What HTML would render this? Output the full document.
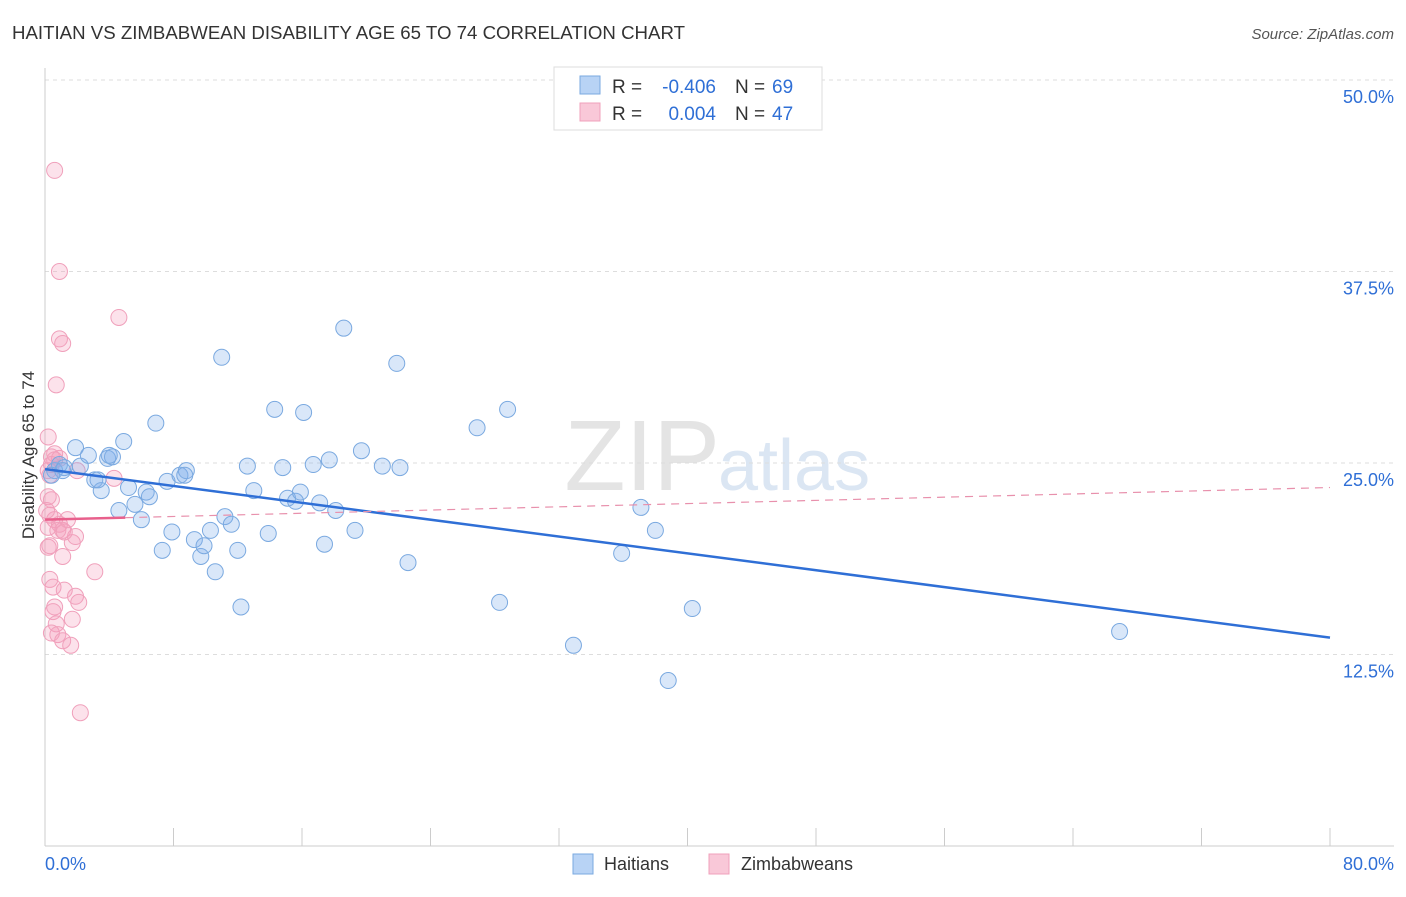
<!DOCTYPE html>
<html><head><meta charset="utf-8"><style>
body{margin:0;background:#fff;font-family:"Liberation Sans",sans-serif;}
svg text{font-family:"Liberation Sans",sans-serif;}
</style></head><body>
<svg id="c" width="1406" height="892">
<text x="12" y="39" font-size="18" fill="#333" textLength="673" lengthAdjust="spacingAndGlyphs">HAITIAN VS ZIMBABWEAN DISABILITY AGE 65 TO 74 CORRELATION CHART</text>
<text x="1394" y="39" font-size="15" fill="#555" font-style="italic" text-anchor="end">Source: ZipAtlas.com</text>
<text x="720" y="490" font-size="100" fill="#e4e4e4" text-anchor="end" font-family="Liberation Serif">ZIP</text>
<text x="718" y="490" font-size="72" fill="#dbe6f3">atlas</text>
<text transform="translate(34,455) rotate(-90)" font-size="17" fill="#333" text-anchor="middle">Disability Age 65 to 74</text>
<g id="grid"></g><g id="pts"></g><g id="trend"></g>
<g>
<rect x="554" y="67" width="268" height="63" fill="#fff" stroke="#ddd"/>
<rect x="580" y="76" width="20" height="18" fill="#b8d3f5" stroke="#7aa9e0"/>
<rect x="580" y="103" width="20" height="18" fill="#f9c8d8" stroke="#f0a0bb"/>
<text x="612" y="93" font-size="19" fill="#333">R =</text>
<text x="716" y="93" font-size="19" fill="#2f6fd6" text-anchor="end">-0.406</text>
<text x="735" y="93" font-size="19" fill="#333">N =</text>
<text x="772" y="93" font-size="19" fill="#2f6fd6">69</text>
<text x="612" y="120" font-size="19" fill="#333">R =</text>
<text x="716" y="120" font-size="19" fill="#2f6fd6" text-anchor="end">0.004</text>
<text x="735" y="120" font-size="19" fill="#333">N =</text>
<text x="772" y="120" font-size="19" fill="#2f6fd6">47</text>
</g>
<g>
<rect x="573" y="854" width="20" height="20" fill="#b8d3f5" stroke="#7aa9e0"/>
<text x="604" y="870" font-size="18" fill="#333">Haitians</text>
<rect x="709" y="854" width="20" height="20" fill="#f9c8d8" stroke="#f0a0bb"/>
<text x="741" y="870" font-size="18" fill="#333">Zimbabweans</text>
</g>
</svg>
<script>
const yTicks=[12.5,25,37.5,50];
const xTickLabels=["0.0%","80.0%"];
const blueX=[0.6,0.9,1.2,1.9,2.2,2.7,3.1,3.5,3.9,4.2,4.6,4.9,5.2,5.6,6.0,6.3,6.5,6.9,7.3,7.6,7.9,8.4,8.8,9.3,9.7,9.9,10.3,10.6,11.0,11.2,11.6,12.0,12.2,12.6,13.0,13.9,14.3,14.8,15.1,15.6,15.9,16.1,16.7,17.1,17.4,17.7,18.1,18.6,19.3,19.7,21.0,21.9,22.1,22.6,26.9,28.3,28.8,32.9,35.9,37.1,38.0,38.8,40.3,66.9,1.1,0.4,3.3,4.0,8.7];
const blueY=[24.5,24.9,24.7,26.0,24.8,25.5,23.9,23.2,25.3,25.4,21.9,26.4,23.4,22.3,21.3,23.1,22.8,27.6,19.3,23.8,20.5,24.2,24.5,20.0,18.9,19.6,20.6,17.9,31.9,21.5,21.0,19.3,15.6,24.8,23.2,20.4,28.5,24.7,22.7,22.5,23.1,28.3,24.9,22.4,19.7,25.2,21.9,33.8,20.6,25.8,24.8,31.5,24.7,18.5,27.3,15.9,28.5,13.1,19.1,22.1,20.6,10.8,15.5,14.0,24.5,24.2,23.9,25.5,24.2];
const pinkX=[0.6,0.9,4.6,0.9,1.1,0.7,0.2,0.4,0.6,0.3,0.2,0.4,0.3,0.6,0.9,1.1,0.2,1.7,1.9,1.1,0.2,3.1,0.3,0.5,1.2,1.9,2.1,0.6,0.5,0.7,1.7,0.4,0.8,1.1,1.6,2.2,4.3,2.0,0.3,0.2,0.8,1.2,0.4,0.9,0.1,1.4,0.6];
const pinkY=[44.1,37.5,34.5,33.1,32.8,30.1,26.7,25.4,25.2,24.2,22.8,22.6,21.6,21.3,21.0,20.6,20.8,19.8,20.2,18.9,19.5,17.9,17.4,16.9,16.7,16.3,15.9,15.6,15.3,14.5,14.8,13.9,13.8,13.4,13.1,8.7,24.0,24.5,19.6,24.5,20.6,20.5,24.9,25.3,21.9,21.3,25.6];
const blueTrend=[24.6,13.6];
const pinkTrend=[21.3,23.4];
const pinkSolidEnd=5;
const NS="http://www.w3.org/2000/svg";
const X=v=>45+v/80*1285, Y=v=>846-v*15.32;
function mk(p,t,a){const e=document.createElementNS(NS,t);for(const k in a)e.setAttribute(k,a[k]);p.appendChild(e);return e;}
const g=document.getElementById('grid'),c=document.getElementById('c');
for(const t of yTicks){
 const l=mk(g,'line',{x1:45,x2:1394,y1:Y(t),y2:Y(t),stroke:'#ddd','stroke-dasharray':'4,4'});
 
 
 const tx=mk(g,'text',{x:1394,y:Y(t)+23,'font-size':18,fill:'#2f6fd6','text-anchor':'end'});tx.textContent=t.toFixed(1)+'%';
 
 
}
mk(g,'line',{x1:45,x2:1394,y1:846,y2:846,stroke:'#ccc'});
mk(g,'line',{x1:45,x2:45,y1:68,y2:846,stroke:'#ccc'});
for(let i=0;i<=10;i++){const l=mk(g,'line',{x1:X(i*8),x2:X(i*8),y1:828,y2:846,stroke:'#ccc'});
 
 }
const xl0=mk(g,'text',{x:45,y:870,'font-size':18,fill:'#2f6fd6'});xl0.textContent=xTickLabels[0];


const xl1=mk(g,'text',{x:1394,y:870,'font-size':18,fill:'#2f6fd6','text-anchor':'end'});xl1.textContent=xTickLabels[1];


const pg=document.getElementById('pts');
pinkX.forEach((x,i)=>{const e=mk(pg,'circle',{cx:X(x),cy:Y(pinkY[i]),r:8,fill:'rgba(244,160,190,0.3)',stroke:'#f0a0bb','stroke-width':1});
 
 });
blueX.forEach((x,i)=>{const e=mk(pg,'circle',{cx:X(x),cy:Y(blueY[i]),r:8,fill:'rgba(130,175,235,0.3)',stroke:'#7aa9e0','stroke-width':1});
 
 });
const tg=document.getElementById('trend');
const b=mk(tg,'line',{x1:X(0),y1:Y(blueTrend[0]),x2:X(80),y2:Y(blueTrend[1]),stroke:'#2f6fd6','stroke-width':2.5});


const pAt=v=>pinkTrend[0]+(pinkTrend[1]-pinkTrend[0])*v/80;
const pd=mk(tg,'line',{x1:X(pinkSolidEnd),y1:Y(pAt(pinkSolidEnd)),x2:X(80),y2:Y(pinkTrend[1]),stroke:'#e890ac','stroke-width':1.2,'stroke-dasharray':'8,6'});


const ps=mk(tg,'line',{x1:X(0),y1:Y(pinkTrend[0]),x2:X(pinkSolidEnd),y2:Y(pAt(pinkSolidEnd)),stroke:'#e8608c','stroke-width':2.5});


</script>
</body></html>
